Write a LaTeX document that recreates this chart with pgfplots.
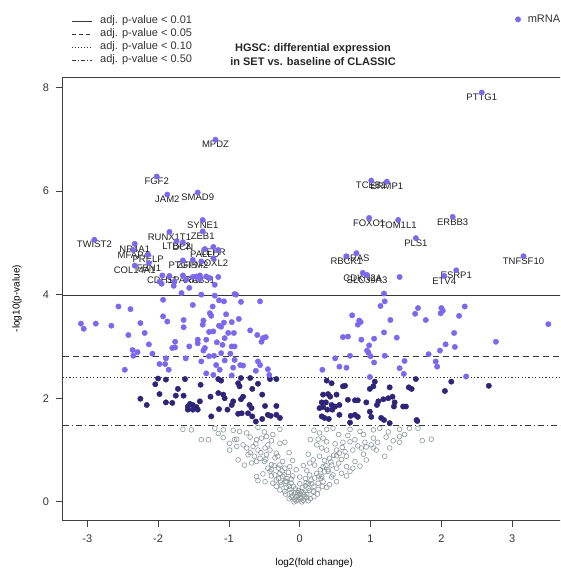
\documentclass[border=0pt]{standalone}
\usepackage{pgfplots}
\pgfplotsset{compat=1.18}
\usepackage{fontspec}
\setmainfont{Liberation Sans}
\definecolor{lightpt}{RGB}{123,104,238}
\definecolor{darkpt}{RGB}{46,36,120}
\definecolor{greypt}{RGB}{140,152,152}
\definecolor{linec}{RGB}{55,55,55}
\tikzset{lbl/.style={font=\fontsize{9.5}{10}\selectfont, text=black!88, inner sep=0pt, yshift=-5pt}}
\begin{document}
\begin{tikzpicture}[x=1pt,y=1pt]
\useasboundingbox (0,0) rectangle (560,570);
\clip (0,0) rectangle (560,570);
% line legend (top left)
\draw[linec, line width=0.8pt] (72,549) -- (92,549);
\draw[linec, line width=0.8pt, dash pattern=on 4pt off 3pt] (72,536) -- (92,536);
\draw[linec, line width=0.8pt, dash pattern=on 1.2pt off 1.8pt] (72,523) -- (92,523);
\draw[linec, line width=0.8pt, dash pattern=on 4pt off 2pt on 1.2pt off 2pt] (72,510) -- (92,510);
\begin{scope}[every node/.style={anchor=west, font=\fontsize{11}{13}\selectfont, text=black!80, inner sep=0pt}]
\node at (100,549) {adj. p-value < 0.01};
\node at (100,536) {adj. p-value < 0.05};
\node at (100,523) {adj. p-value < 0.10};
\node at (100,510) {adj. p-value < 0.50};
\end{scope}
\node[align=center, font=\bfseries\fontsize{11}{14.5}\selectfont, text=black!85] at (313,515.5) {HGSC: differential expression\\in SET vs. baseline of CLASSIC};
\begin{axis}[
  at={(62.5pt,50pt)}, anchor=south west,
  scale only axis, width=503.5pt, height=443pt,
  xmin=-3.35, xmax=3.76, ymin=-0.35, ymax=8.20,
  xtick={-3,-2,-1,0,1,2,3}, xticklabels={-3,-2,-1,0,1,2,3},
  ytick={0,2,4,6,8}, yticklabels={0,2,4,6,8},
  xtick pos=bottom, ytick pos=left,
  tick align=outside, major tick length=7pt,
  axis line style={draw=black!75, line width=0.8pt},
  every tick/.style={black!75, line width=0.8pt},
  tick label style={font=\fontsize{11}{13}\selectfont, text=black!80},
  yticklabel style={xshift=-3pt},
  xticklabel style={yshift=-4pt},
  xlabel={log2(fold change)}, ylabel={-log10(p-value)},
  label style={font=\fontsize{11}{13}\selectfont, text=black!85},
  every axis x label/.style={at={(axis description cs:0.5,-0.097)}, anchor=center},
  every axis y label/.style={at={(axis description cs:-0.0904,0.5)}, anchor=center, rotate=90},
  legend style={at={(axis description cs:0.899,1.130)}, anchor=west, draw=none, fill=none,
    font=\fontsize{11}{13}\selectfont, text=black!80, inner sep=0pt,
    /tikz/every odd column/.append style={column sep=5pt}},
  legend image code/.code={\draw[#1] plot coordinates {(2.8pt,0pt)};},
]
% grey non-significant
\addplot[forget plot, only marks, mark=o, mark size=2.4pt, draw=greypt, mark options={line width=0.6pt}] table {
x y
-1.65 1.40
-1.53 1.39
-1.08 1.39
-0.94 1.38
-0.85 1.36
-0.75 1.33
-0.59 1.44
-0.28 1.40
0.28 1.33
0.38 1.40
0.47 1.42
0.71 1.40
0.85 1.36
1.04 1.39
1.13 1.42
1.41 1.40
1.55 1.42
1.67 1.42
-1.39 1.20
-1.29 1.20
-1.08 1.24
-0.89 1.21
-0.99 1.13
-0.61 1.20
-0.54 1.23
-0.47 1.26
-0.40 1.18
-0.28 1.13
-0.21 1.15
0.26 1.21
0.33 1.23
0.38 1.16
0.61 1.15
0.71 1.16
0.78 1.20
0.92 1.15
1.04 1.23
1.22 1.25
1.41 1.26
1.41 1.15
-0.99 1.00
-0.89 1.07
-0.75 1.04
-0.66 1.07
-0.59 1.00
-0.49 1.04
-0.42 1.00
-0.33 0.94
0.24 1.10
0.31 1.04
0.38 1.00
0.52 1.00
0.64 0.97
0.75 1.00
0.87 1.04
0.94 1.06
1.04 1.04
1.08 1.00
1.27 1.04
1.01 1.10
-0.87 0.81
-0.73 0.91
-0.64 0.88
-0.56 0.84
-0.47 0.91
-0.31 0.88
-0.24 0.78
0.19 0.81
0.28 0.88
0.42 0.84
0.52 0.89
0.59 0.82
0.66 0.88
0.78 0.78
0.94 0.81
1.20 0.88
-0.78 0.71
-0.68 0.75
-0.61 0.78
-0.28 0.71
-0.21 0.65
-0.14 0.68
0.14 0.75
0.21 0.71
0.33 0.68
0.45 0.71
0.52 0.65
0.66 0.68
0.75 0.65
0.85 0.69
-0.61 0.49
-0.52 0.54
-0.42 0.59
-0.35 0.52
-0.28 0.55
-0.24 0.49
-0.16 0.57
0.14 0.52
0.24 0.55
0.31 0.49
0.40 0.59
0.47 0.52
0.59 0.55
0.66 0.50
0.71 0.59
-0.59 0.41
-0.49 0.39
-0.38 0.36
-0.33 0.42
-0.26 0.33
-0.19 0.39
-0.12 0.36
0.09 0.37
0.16 0.42
0.26 0.36
0.33 0.39
0.42 0.33
0.52 0.39
0.38 0.28
-0.28 0.23
-0.21 0.20
-0.14 0.24
-0.07 0.17
-0.02 0.22
0.05 0.18
0.12 0.26
0.19 0.20
0.26 0.24
-0.19 0.28
-0.12 0.09
-0.07 0.05
-0.02 0.04
0.02 0.07
0.07 0.10
-0.05 0.10
1.73 1.18
1.86 1.21
-0.10 0.12
0.00 0.15
0.10 0.14
-0.15 0.30
0.20 0.30
-0.30 0.45
0.30 0.45
-0.45 0.65
0.40 0.62
-0.50 0.78
0.55 0.75
-0.40 0.72
-0.20 0.40
0.25 0.15
0.15 0.06
-0.05 0.02
0.05 0.03
0.10 0.08
-0.25 0.60
-0.35 0.85
0.35 0.80
0.10 0.60
-0.10 0.50
0.00 0.35
-0.45 1.10
0.50 1.12
-0.70 1.25
0.90 1.30
-0.55 0.95
-0.48 0.82
-0.40 0.62
-0.36 0.70
-0.30 0.65
-0.27 0.38
-0.22 0.52
-0.18 0.45
-0.12 0.44
-0.09 0.30
-0.06 0.25
-0.03 0.18
0.02 0.20
0.04 0.28
0.08 0.31
0.12 0.36
0.17 0.35
0.21 0.46
0.27 0.50
0.29 0.62
0.35 0.58
0.37 0.70
0.44 0.77
0.48 0.90
0.56 0.94
0.60 1.05
-0.62 1.12
-0.70 0.95
-0.80 1.10
-0.92 1.20
-1.15 1.32
-1.20 1.42
-0.50 1.35
-0.38 1.30
0.15 1.20
0.20 1.38
0.55 1.30
0.68 1.28
0.82 1.08
0.90 0.92
1.10 1.15
1.25 1.35
1.32 1.18
1.48 1.30
-0.15 0.95
-0.10 0.80
0.05 0.70
0.12 0.92
-0.05 0.62
0.00 0.48
0.08 0.45
-0.33 0.30
0.32 0.30
-0.40 0.50
0.45 0.48
-0.20 0.15
0.20 0.10
-0.15 0.06
0.12 0.02
-0.08 0.00
0.03 0.00
0.00 0.08
-0.02 0.12
0.06 0.14
-0.12 0.18
0.14 0.22
};
% dark: 0.10 < adj. p < 0.50
\addplot[forget plot, only marks, mark=*, mark size=2.7pt, color=darkpt] table {
x y
-2.00 2.38
-2.04 2.27
-1.89 2.36
-1.62 2.37
-1.72 2.18
-1.98 2.08
-1.75 2.05
-1.64 2.05
-2.25 1.99
-2.16 1.87
-1.89 1.92
-1.80 1.91
-1.58 1.84
-1.15 2.37
-1.11 2.34
-0.83 2.39
-0.70 2.39
-0.42 2.37
-0.33 2.37
-0.87 2.29
-0.85 2.23
-0.59 2.28
-1.40 2.26
-0.67 2.18
-1.15 2.10
-1.08 2.07
-1.06 2.00
-1.26 2.03
-0.80 2.03
-0.83 1.98
-0.53 2.07
-0.94 1.94
-0.96 1.87
-1.41 1.94
-1.55 1.89
-1.51 1.87
-1.46 1.83
-1.58 1.78
-1.51 1.78
-1.44 1.78
-0.71 1.87
-0.68 1.81
-0.73 1.71
-0.67 1.65
-0.49 1.85
-0.33 1.85
-1.14 1.79
-1.02 1.78
-0.87 1.70
-0.82 1.71
-0.45 1.68
-0.41 1.66
-0.33 1.68
-0.28 1.62
-1.25 1.65
-0.62 1.55
-0.53 1.60
0.38 2.34
0.45 2.29
0.61 2.23
0.64 2.24
1.06 2.32
1.04 2.23
0.99 2.18
1.27 2.21
1.54 2.21
1.58 2.18
1.64 2.37
0.33 2.07
0.40 2.08
0.43 2.03
0.52 2.07
0.68 1.97
0.78 1.96
0.82 1.96
0.94 1.92
1.11 1.94
1.18 1.98
1.25 2.00
1.31 2.03
1.34 1.92
1.09 1.87
0.31 1.92
0.37 1.92
0.45 1.87
0.50 1.84
0.56 1.87
0.28 1.81
0.33 1.83
0.39 1.78
0.46 1.78
0.56 1.68
0.31 1.65
0.35 1.62
0.41 1.60
0.72 1.66
0.78 1.68
0.82 1.64
0.99 1.74
1.01 1.64
1.15 1.62
1.19 1.58
1.33 1.84
1.46 1.84
1.50 1.84
1.65 1.58
0.71 1.53
1.27 1.52
2.67 2.24
2.05 2.14
2.14 2.32
1.66 1.56
};
% threshold lines
\addplot[forget plot, linec, line width=0.8pt] coordinates {(-3.35,3.98) (3.76,3.98)};
\addplot[forget plot, linec, line width=0.8pt, dash pattern=on 6pt off 4pt] coordinates {(-3.35,2.80) (3.76,2.80)};
\addplot[forget plot, linec, line width=0.8pt, dash pattern=on 1.2pt off 2.2pt] coordinates {(-3.35,2.40) (3.76,2.40)};
\addplot[forget plot, linec, line width=0.8pt, dash pattern=on 6pt off 3pt on 1.2pt off 3pt] coordinates {(-3.35,1.47) (3.76,1.47)};
% light: adj. p < 0.10 (mRNA)
\addplot[only marks, mark=*, mark size=2.7pt, color=lightpt] table {
x y
-2.56 3.77
-2.39 3.72
-3.09 3.44
-3.05 3.34
-2.88 3.44
-2.66 3.40
-2.25 3.45
-2.42 3.22
-2.19 3.26
-2.13 3.04
-2.36 2.93
-2.29 2.89
-2.35 2.82
-2.08 2.86
-2.47 2.55
-1.93 3.90
-1.93 3.58
-1.87 3.48
-1.64 3.51
-1.64 3.37
-1.76 3.09
-1.76 2.98
-1.80 2.97
-1.89 2.77
-1.61 2.77
-1.98 2.66
-1.90 2.66
-1.85 2.55
-1.56 3.00
-1.95 4.21
-1.78 4.17
-1.67 4.03
-1.56 4.13
-1.39 4.00
-1.20 3.98
-0.90 4.00
-1.20 4.19
-1.51 3.80
-1.23 3.77
-1.14 3.89
-1.07 3.87
-0.83 3.86
-0.56 3.87
-1.27 3.64
-1.25 3.59
-1.04 3.62
-0.86 3.53
-1.36 3.50
-1.37 3.42
-1.14 3.40
-1.11 3.38
-1.07 3.46
-0.96 3.47
-1.28 3.28
-1.22 3.29
-0.70 3.31
-0.60 3.22
-0.52 3.16
-0.48 3.18
-0.54 3.09
-1.01 3.26
-0.93 3.26
-1.06 3.16
-1.32 3.13
-1.17 3.08
-1.44 3.13
-1.44 3.06
-1.34 2.97
-1.36 2.92
-1.09 3.03
-0.96 3.00
-0.92 3.00
-0.98 2.86
-1.11 2.87
-1.21 2.82
-1.28 2.81
-1.39 2.71
-1.06 2.73
-0.92 2.74
-0.59 2.71
-0.56 2.64
-1.18 2.64
-0.84 2.64
-0.80 2.63
-0.94 2.59
-1.13 2.55
-0.62 2.53
-0.45 2.56
-1.32 2.48
-1.22 2.45
-0.43 2.45
-0.96 2.44
1.19 4.02
1.20 3.87
1.14 3.78
1.63 3.63
1.67 3.74
0.74 3.60
0.84 3.50
0.86 3.47
0.82 3.42
1.28 3.51
1.19 3.27
0.61 3.18
0.68 3.19
0.87 3.13
1.05 3.15
1.37 3.17
0.98 3.02
0.95 2.92
0.97 2.88
0.71 2.82
1.00 2.81
1.20 2.82
0.50 2.77
1.05 2.69
1.48 2.72
0.56 2.61
0.66 2.59
0.32 2.55
1.41 2.58
1.47 2.47
0.99 2.41
3.51 3.43
2.77 3.09
2.33 3.77
2.25 3.59
2.00 3.74
2.02 3.69
1.99 3.64
1.78 3.51
2.18 3.26
2.06 3.04
2.19 2.99
1.98 2.92
1.82 2.85
1.92 2.71
1.94 2.61
2.35 2.42
-1.34 4.88
-1.22 4.92
-1.15 4.86
-1.51 4.67
-1.39 4.64
-1.22 4.70
-1.84 4.36
-1.77 4.25
-1.60 4.29
-1.51 4.34
-1.41 4.30
-1.27 4.32
-1.15 4.34
-0.92 4.01
-1.46 4.35
-1.32 4.35
-1.98 4.25
-1.65 4.66
-1.19 6.99
-2.02 6.28
-1.87 5.93
-1.44 5.97
-1.37 5.44
-1.37 5.22
-1.84 5.21
-1.74 5.03
-1.65 5.01
-2.90 5.06
-2.33 4.98
-2.35 4.86
-2.14 4.77
-2.33 4.56
-2.13 4.61
-1.94 4.37
-1.65 4.37
-1.41 4.37
2.57 7.90
1.01 6.20
1.23 6.18
0.98 5.48
1.39 5.44
2.16 5.50
1.64 5.09
0.80 4.80
0.66 4.74
0.89 4.42
0.95 4.38
1.41 4.34
2.21 4.47
2.04 4.36
3.16 4.74
};
\addlegendentry{mRNA}
% gene labels
\node[lbl] at (axis cs:-1.19,6.99) {MPDZ};
\node[lbl] at (axis cs:-2.02,6.28) {FGF2};
\node[lbl] at (axis cs:-1.87,5.93) {JAM2};
\node[lbl] at (axis cs:-1.44,5.97) {SMAD9};
\node[lbl] at (axis cs:-1.37,5.44) {SYNE1};
\node[lbl] at (axis cs:-1.37,5.22) {ZEB1};
\node[lbl] at (axis cs:-1.84,5.21) {RUNX1T1};
\node[lbl] at (axis cs:-1.74,5.03) {LTBP2};
\node[lbl] at (axis cs:-1.65,5.01) {DCN};
\node[lbl] at (axis cs:-2.90,5.06) {TWIST2};
\node[lbl] at (axis cs:-2.33,4.98) {NR4A1};
\node[lbl] at (axis cs:-2.35,4.86) {MFAP4};
\node[lbl] at (axis cs:-2.14,4.77) {PRELP};
\node[lbl] at (axis cs:-2.33,4.56) {COL14A1};
\node[lbl] at (axis cs:-2.13,4.61) {FBN1};
\node[lbl] at (axis cs:-1.65,4.66) {PTGIS};
\node[lbl] at (axis cs:-1.34,4.88) {PALLD};
\node[lbl] at (axis cs:-1.22,4.92) {LEPR};
\node[lbl] at (axis cs:-1.51,4.67) {ZFPM2};
\node[lbl] at (axis cs:-1.22,4.70) {LOXL2};
\node[lbl] at (axis cs:-1.94,4.37) {CDH11};
\node[lbl] at (axis cs:-1.65,4.37) {SPARC};
\node[lbl] at (axis cs:-1.41,4.37) {RAB31};
\node[lbl] at (axis cs:2.57,7.90) {PTTG1};
\node[lbl] at (axis cs:1.01,6.20) {TCEB1};
\node[lbl] at (axis cs:1.23,6.18) {ERMP1};
\node[lbl] at (axis cs:0.98,5.48) {FOXO1};
\node[lbl] at (axis cs:1.39,5.44) {TOM1L1};
\node[lbl] at (axis cs:2.16,5.50) {ERBB3};
\node[lbl] at (axis cs:1.64,5.09) {PLS1};
\node[lbl] at (axis cs:0.80,4.80) {HRAS};
\node[lbl] at (axis cs:0.66,4.74) {RBCK1};
\node[lbl] at (axis cs:0.89,4.42) {CDKN2A};
\node[lbl] at (axis cs:0.95,4.38) {SLC39A3};
\node[lbl] at (axis cs:2.21,4.47) {ESRP1};
\node[lbl] at (axis cs:2.04,4.36) {ETV4};
\node[lbl] at (axis cs:3.16,4.74) {TNFSF10};
\end{axis}
\end{tikzpicture}
\end{document}
